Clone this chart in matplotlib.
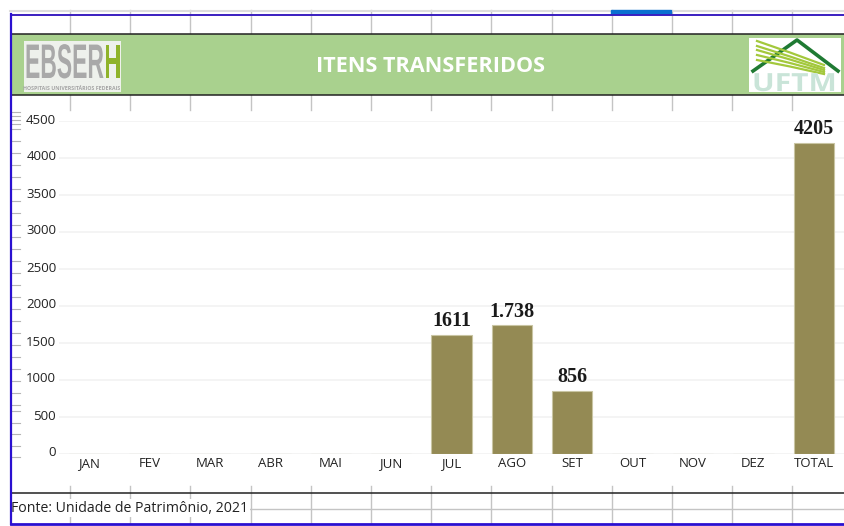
import matplotlib

matplotlib.use("Agg")
import matplotlib.patheffects as pe
import matplotlib.pyplot as plt
from matplotlib.patches import Rectangle
from matplotlib.transforms import Affine2D

meses = ["JAN", "FEV", "MAR", "ABR", "MAI", "JUN", "JUL", "AGO", "SET", "OUT", "NOV", "DEZ", "TOTAL"]
valores = [0, 0, 0, 0, 0, 0, 1611, 1738, 856, 0, 0, 0, 4205]
rotulos = ["", "", "", "", "", "", "1611", "1.738", "856", "", "", "", "4205"]
y_ticks = [0, 500, 1000, 1500, 2000, 2500, 3000, 3500, 4000, 4500]

W, H = 845, 526
plt.rcParams["font.family"] = ["Open Sans", "DejaVu Sans"]


# estica o texto (as letras dos logos sao condensadas)
class Esticar(pe.AbstractPathEffect):
    def __init__(self, sx, sy=1):
        super().__init__()
        self.sx = sx
        self.sy = sy

    def draw_path(self, renderer, gc, tpath, affine, rgbFace=None):
        renderer.draw_path(gc, tpath, Affine2D().scale(self.sx, self.sy) + affine, rgbFace)


fig = plt.figure(figsize=(W / 100, H / 100), dpi=100)

# fundo em pixels: planilha, cabecalho, rodape
bg = fig.add_axes([0, 0, 1, 1], zorder=0)
bg.set_xlim(0, W)
bg.set_ylim(H, 0)
bg.axis("off")

cinza = "#c4c4c4"
for i in range(13):
    x = 70 + 60.2 * i
    bg.plot([x, x], [10, 34], color=cinza, lw=1)
    bg.plot([x, x], [95, 110], color=cinza, lw=1)
    bg.plot([x, x], [486, 523], color=cinza, lw=1)
bg.plot([10, W], [11, 11], color="#dddddd", lw=1.5)
bg.plot([250, W], [509, 509], color=cinza, lw=1)
bg.add_patch(Rectangle((611, 10), 60, 4, color="#0a6fd0", zorder=3))

bg.add_patch(Rectangle((11, 34), W - 11, 61, facecolor="#a9d18e", edgecolor="none", zorder=2))
bg.plot([11, W], [34, 34], color="#222222", lw=1.1, zorder=3)
bg.plot([11, W], [95, 95], color="#222222", lw=1.1, zorder=3)
bg.plot([11, W], [493, 493], color="#222222", lw=1.1, zorder=3)
bg.plot([11, W], [14.5, 14.5], color="#3a1fc0", lw=1.4, zorder=6)
bg.plot([11, W], [523.5, 523.5], color="#2a10d0", lw=2, zorder=6)
bg.plot([11, 11], [14, 524], color="#2a10d0", lw=1.6, zorder=6)

# marcas da regua na esquerda
for y in [112, 116, 120, 124, 129, 141, 153, 165, 177, 189, 201, 213, 225, 237, 249, 261, 273,
          285, 297, 309, 321, 333, 345, 357, 369, 381, 393, 405, 411, 423, 434, 446, 457]:
    bg.plot([12, 20], [y, y], color="#b5b5b5", lw=0.8)

bg.text(431, 66, "ITENS TRANSFERIDOS", color="white", fontsize=15.6, fontweight="bold",
        ha="center", va="center", zorder=5)

# logo EBSERH
bg.add_patch(Rectangle((24, 41), 97, 51, facecolor="#eef1ec", edgecolor="none", zorder=3))
bg.text(25, 78, "EBSER", color="#a9a9a9", fontsize=16.5, fontweight="bold", family="Liberation Sans",
        ha="left", va="baseline", zorder=5, path_effects=[Esticar(1.0, 2.12)])
bg.text(104.5, 78, "H", color="#8fb32a", fontsize=16.5, fontweight="bold", family="Liberation Sans",
        ha="left", va="baseline", zorder=5, path_effects=[Esticar(1.0, 2.12)])
bg.text(72, 88, "HOSPITAIS UNIVERSITÁRIOS FEDERAIS", color="#a5a5a5", fontsize=3.8, fontweight="bold",
        ha="center", va="center", zorder=5)

# logo UFTM
bg.add_patch(Rectangle((749, 38), 92, 54, facecolor="white", edgecolor="none", zorder=3))
bg.plot([753, 780, 797, 838], [71, 52, 40, 71], color="#1f7a33", lw=2.6, zorder=4)
for y0, y1 in [(41, 62), (46, 65), (50, 67), (55, 69), (60, 71)]:
    bg.plot([757, 790, 824], [y0, (y0 + y1) / 2 + 1, y1 + 3], color="#a3c83c", lw=1.6, zorder=5)
bg.text(752, 91, "UFTM", color="#c9e4d8", fontsize=18, fontweight="bold", ha="left", va="baseline",
        zorder=5, path_effects=[Esticar(1.2)])

bg.text(11, 508, "Fonte: Unidade de Patrimônio, 2021", color="#222222", fontsize=10.2,
        ha="left", va="center", zorder=5,
        bbox=dict(facecolor="white", edgecolor="none", pad=1))

# grafico
ax = fig.add_axes([59 / W, 1 - 454 / H, 785 / W, 333 / H], zorder=2)
ax.patch.set_alpha(0)
pos = list(range(len(meses)))
ax.bar(pos, valores, width=0.67, color="#948a54", edgecolor="#c9c5a3", linewidth=0.8, zorder=3)
for p, v, r in zip(pos, valores, rotulos):
    if r:
        ax.text(p, v + 48, r, ha="center", va="bottom", fontsize=14.5, fontweight="bold",
                family="Liberation Serif", color="#1a1a1a", zorder=4)

ax.set_xlim(-0.5, 12.5)
ax.set_ylim(0, 4500)
ax.set_xticks(pos)
ax.set_xticklabels(meses)
ax.set_yticks(y_ticks)
ax.tick_params(axis="both", length=0, labelsize=9.5, labelcolor="#222222")
ax.tick_params(axis="x", pad=2)
ax.tick_params(axis="y", pad=2)
for lab in ax.get_yticklabels():
    lab.set_verticalalignment("center")
    lab.set_transform(lab.get_transform() + Affine2D().translate(0, 1))
ax.grid(axis="y", color="#f2f2f2", lw=1.2, zorder=0)
ax.set_axisbelow(True)
for s in ax.spines.values():
    s.set_visible(False)

fig.savefig("out.png", dpi=100, facecolor="white")
